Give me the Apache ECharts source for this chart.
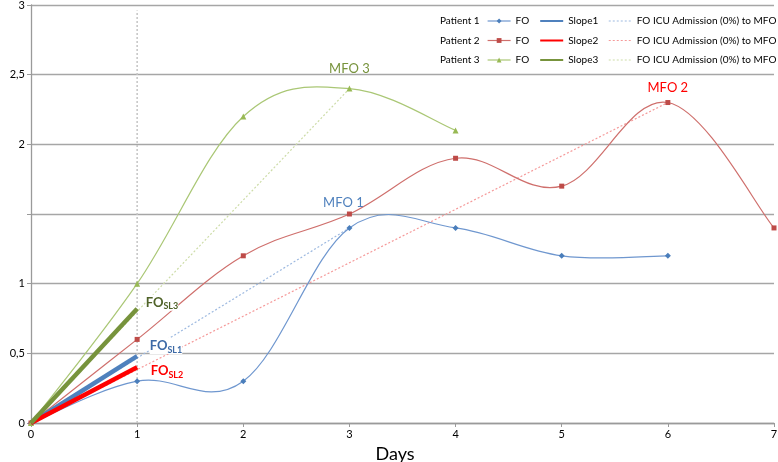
<!DOCTYPE html>
<html>
<head>
<meta charset="utf-8">
<script src="https://cdn.jsdelivr.net/npm/echarts@6/dist/echarts.min.js"></script>
<style>html,body{margin:0;padding:0;background:#fff}#c{width:778px;height:462px}</style>
</head>
<body>
<div id="c"></div>
<script>
// ---- data ----
const days = [0, 1, 2, 3, 4, 5, 6, 7];
const fo1 = [0, 0.3, 0.3, 1.4, 1.4, 1.2, 1.2];
const fo2 = [0, 0.6, 1.2, 1.5, 1.9, 1.7, 2.3, 1.4];
const fo3 = [0, 1.0, 2.2, 2.4, 2.1];
const slopeDays = [0, 1];
const slope1 = [0, 0.48];
const slope2 = [0, 0.40];
const slope3 = [0, 0.82];
const mfoDay = [3, 6, 3];           // day of maximum FO for patients 1..3
const patients = ['Patient 1', 'Patient 2', 'Patient 3'];
const yTicks = [0, 0.5, 1, 1.5, 2, 2.5, 3];
const hiddenYTick = 1.5;
const markDay = 1;

const FONT = 'Lato, "Open Sans", sans-serif';
const pts = (xs, ys) => ys.map((v, i) => [xs[i], v]);
const foSeries = [fo1, fo2, fo3];
const lineCol = ['#6f97cf', '#cf6f6c', '#aac775'];
const markCol = ['#4a7ebb', '#be4b48', '#98b954'];
const slopeCol = ['#4f81bd', '#ff0000', '#77933c'];
const icuCol = ['#9db9e0', '#f59a9a', '#cddca8'];
const mfoCol = ['#4f81bd', '#ff0000', '#77933c'];
const slLabelCol = ['#3d6aa6', '#ff0000', '#4f6228'];
const symbols = ['diamond', 'rect', 'triangle'];
const mfoOffset = [[-6, -10], [0, 0], [0, -4]];
const slOffset = [[12, -10], [13, 4], [8, -6]];
const TENSION = 0.18;

// Excel-like smoothed path through pixel points (cubic Bezier, Catmull-Rom style)
function smoothPath(P) {
  let d = 'M' + P[0][0] + ' ' + P[0][1];
  for (let i = 0; i < P.length - 1; i++) {
    const a = P[i - 1] || P[i], b = P[i], c = P[i + 1], e = P[i + 2] || P[i + 1];
    const c1 = [b[0] + (c[0] - a[0]) * TENSION, b[1] + (c[1] - a[1]) * TENSION];
    const c2 = [c[0] - (e[0] - b[0]) * TENSION, c[1] - (e[1] - b[1]) * TENSION];
    d += ' C' + c1[0] + ' ' + c1[1] + ' ' + c2[0] + ' ' + c2[1] + ' ' + c[0] + ' ' + c[1];
  }
  return d;
}

const series = [];
foSeries.forEach((arr, p) => {
  const raw = pts(days, arr);
  series.push({
    name: 'curve' + (p + 1), type: 'custom', silent: true, z: 2,
    data: raw,
    renderItem: (params, api) => {
      if (params.dataIndex !== 0) return null;
      const P = raw.map(d => api.coord(d));
      return { type: 'path', shape: { pathData: smoothPath(P) },
        style: { stroke: lineCol[p], fill: 'none', lineWidth: 1.2 } };
    }
  });
  const data = raw.map(d => {
    if (d[0] === mfoDay[p]) {
      return { value: d, label: { show: true, formatter: 'MFO ' + (p + 1), position: 'top', distance: 6,
        offset: mfoOffset[p], color: mfoCol[p], fontSize: 13, fontFamily: FONT } };
    }
    return d;
  });
  series.push({
    name: 'FO' + (p + 1), type: 'line', data,
    symbol: symbols[p], symbolSize: p === 1 ? 5 : 6,
    itemStyle: { color: markCol[p] },
    lineStyle: { color: lineCol[p], width: 1.2, opacity: 0 },
    z: 3
  });
});
const slopes = [slope1, slope2, slope3];
slopes.forEach((arr, p) => {
  const d = pts(slopeDays, arr);
  series.push({
    name: 'Slope' + (p + 1), type: 'line', data: d, symbol: 'none',
    lineStyle: { color: slopeCol[p], width: 4.5 },
    itemStyle: { color: slopeCol[p] },
    z: 4,
    markPoint: {
      symbol: 'circle', symbolSize: 1, itemStyle: { color: 'rgba(0,0,0,0)' },
      data: [{ coord: d[d.length - 1], value: 'SL' + (p + 1) }],
      label: {
        show: true, position: 'right', distance: slOffset[p][0], offset: [0, slOffset[p][1]],
        backgroundColor: '#fff',
        formatter: () => '{a|FO}{b|SL' + (p + 1) + '}',
        rich: {
          a: { fontSize: 13, fontWeight: 'bold', color: slLabelCol[p], fontFamily: FONT },
          b: { fontSize: 9, fontWeight: 'bold', color: slLabelCol[p], fontFamily: FONT, padding: [7, 0, 0, 0] }
        }
      }
    }
  });
});
foSeries.forEach((arr, p) => {
  const d = mfoDay[p];
  series.push({
    name: 'ICU' + (p + 1), type: 'line', data: [[0, 0], [d, arr[days.indexOf(d)]]],
    symbol: 'none', lineStyle: { color: icuCol[p], width: 1.2, type: [2, 2] },
    itemStyle: { color: icuCol[p] }, z: 1
  });
});
series.push({
  name: 'vline', type: 'line', data: [[markDay, 0], [markDay, 2.96]], symbol: 'none',
  lineStyle: { color: '#c4c4c4', width: 1.5, type: [2, 2] }, z: 1, silent: true
});

const legends = [0, 1, 2].map(p => ({
  orient: 'horizontal', left: 487, top: 16 + p * 19.5, width: 300,
  itemWidth: 23, itemHeight: 6, itemGap: 10, padding: 0, selectedMode: false,
  textStyle: { fontSize: 10, fontFamily: FONT, color: '#000' },
  formatter: n => n.startsWith('FO') ? 'FO' : (n.startsWith('Slope') ? n : 'FO ICU Admission (0%) to MFO'),
  data: [
    { name: 'FO' + (p + 1), lineStyle: { width: 1.2, color: lineCol[p], opacity: 1 } },
    { name: 'Slope' + (p + 1), lineStyle: { width: 2 }, itemStyle: { opacity: 0 } },
    { name: 'ICU' + (p + 1), lineStyle: { width: 1 }, itemStyle: { opacity: 0 } }
  ]
}));

const chart = echarts.init(document.getElementById('c'));
chart.setOption({
  animation: false,
  backgroundColor: '#fff',
  grid: { left: 31, right: 4, top: 5, bottom: 39, outerBoundsMode: 'none', containLabel: false },
  legend: legends,
  graphic: patients.map((t, p) => ({
    type: 'text', left: 440, top: 16 + p * 19.5,
    style: { text: t, font: '10px ' + FONT, fill: '#000' }
  })),
  xAxis: {
    type: 'value', min: 0, max: 7, interval: 1,
    name: 'Days', nameLocation: 'middle', nameGap: 22,
    nameTextStyle: { fontSize: 18, fontFamily: FONT, color: '#000', padding: [0, 15, 0, 0] },
    axisLine: { show: true, lineStyle: { color: '#9a9a9a', width: 1.3 } },
    axisTick: { show: true, length: 4, lineStyle: { color: '#9a9a9a' } },
    axisLabel: { fontSize: 11, fontFamily: FONT, color: '#000', margin: 6 },
    splitLine: { show: false }
  },
  yAxis: {
    type: 'value', min: 0, max: 3, interval: 0.5,
    name: 'FO (%)', nameLocation: 'middle', nameGap: 12, nameRotate: 90,
    nameTextStyle: { fontSize: 19, fontFamily: FONT, color: '#000' },
    axisLine: { show: true, lineStyle: { color: '#9a9a9a', width: 1.3 } },
    axisTick: { show: true, length: 4, lineStyle: { color: '#9a9a9a' } },
    axisLabel: { fontSize: 11, fontFamily: FONT, color: '#000', margin: 6,
      formatter: v => (v === hiddenYTick || yTicks.indexOf(v) < 0) ? '' : String(v).replace('.', ',') },
    splitLine: { show: true, lineStyle: { color: '#a6a6a6', width: 1.3 } }
  },
  series
});
</script>
</body>
</html>
